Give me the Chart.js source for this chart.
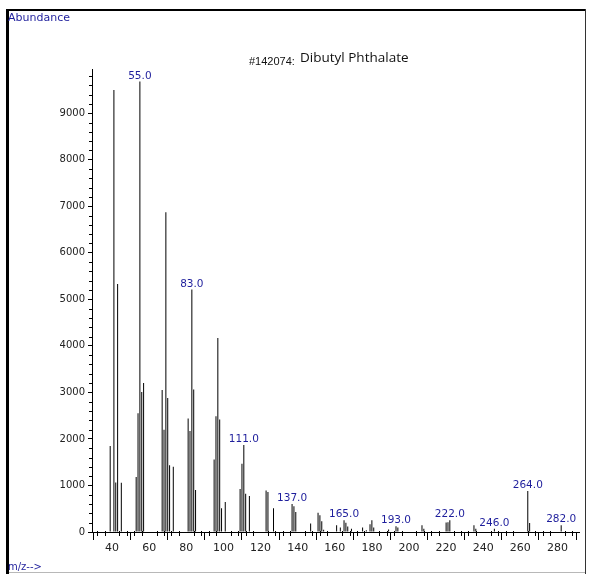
<!DOCTYPE html>
<html>
<head>
<meta charset="utf-8">
<script src="https://cdn.jsdelivr.net/npm/chart.js@4.4.1/dist/chart.umd.min.js"></script>
<style>
  html, body { margin: 0; padding: 0; background: #fff; }
  canvas { display: block; }
</style>
</head>
<body>
<canvas id="ms" width="590" height="574"></canvas>
<script>
// Mass spectrum: m/z of each ion and its abundance
const massToCharge = [
  39, 41, 42, 43, 45,
  53, 54, 55, 56, 57,
  67, 68, 69, 70, 71, 73,
  81, 82, 83, 84, 85,
  95, 96, 97, 98, 99, 101,
  109, 110, 111, 112, 114,
  123, 124, 127,
  137, 138, 139,
  147, 151, 152, 153, 154,
  161, 163, 165, 166, 167, 169,
  175, 177, 179, 180, 181,
  189, 193, 194,
  207, 208,
  220, 221, 222,
  235, 236, 246,
  264, 265, 282
];
const abundance = [
  1850, 9500, 1065, 5330, 1060,
  1180, 2550, 9680, 3010, 3200,
  3050, 2200, 6870, 2880, 1435, 1400,
  2440, 2170, 5210, 3060, 900,
  1560, 2490, 4170, 2420, 510, 645,
  925, 1465, 1870, 820, 775,
  890, 860, 510,
  600, 555, 430,
  185, 415, 360, 230, 50,
  145, 95, 250, 200, 120, 72,
  95, 37, 165, 250, 95,
  52, 122, 95,
  145, 72,
  205, 210, 252,
  144, 72, 72,
  880, 195, 144
];
// Peaks annotated with their m/z
const labelledPeaks = [55, 83, 111, 137, 165, 193, 222, 246, 264, 282];
// Axis tick labels
const mzTicks = [40, 60, 80, 100, 120, 140, 160, 180, 200, 220, 240, 260, 280];
const abundanceTicks = [0, 1000, 2000, 3000, 4000, 5000, 6000, 7000, 8000, 9000];

const compoundId = '#142074:';
const compoundName = 'Dibutyl Phthalate';
const yTitle = 'Abundance';
const xTitle = 'm/z-->';

const BLUE = '#1e1e9c';
const TICK_FONT = 'DejaVu Sans';

// Frame, titles, minor ticks and peak annotations
const spectrumDecor = {
  id: 'spectrumDecor',
  beforeDraw(chart) {
    const ctx = chart.ctx;
    ctx.save();
    ctx.fillStyle = '#fff';
    ctx.fillRect(0, 0, chart.width, chart.height);
    ctx.fillStyle = '#000';
    ctx.fillRect(6, 9, 3, 565);      // left edge
    ctx.fillRect(6, 9, 580, 2);      // top edge
    ctx.fillStyle = '#333';
    ctx.fillRect(585, 9, 1, 565);    // right edge
    ctx.fillStyle = '#b8b8b8';
    ctx.fillRect(9, 572, 576, 1);    // bottom edge
    ctx.restore();
  },
  afterDraw(chart) {
    const ctx = chart.ctx;
    const xs = chart.scales.x, ys = chart.scales.y;
    const area = chart.chartArea;
    ctx.save();
    ctx.strokeStyle = '#000';
    ctx.lineWidth = 1;
    ctx.beginPath();
    // minor ticks on m/z axis, every 4 units
    for (let v = 32; v <= xs.max; v += 4) {
      if (v % 20 === 0) continue;
      const px = Math.round(xs.getPixelForValue(v)) + 0.5;
      ctx.moveTo(px, area.bottom - 1);
      ctx.lineTo(px, area.bottom + 4);
    }
    // minor ticks on abundance axis, every 200
    for (let v = 200; v <= ys.max; v += 200) {
      if (v % 1000 === 0) continue;
      const py = Math.round(ys.getPixelForValue(v)) + 0.5;
      ctx.moveTo(area.left - 3, py);
      ctx.lineTo(area.left, py);
    }
    ctx.stroke();

    // peak annotations
    ctx.fillStyle = BLUE;
    ctx.font = '10.5px "DejaVu Sans"';
    ctx.textAlign = 'center';
    ctx.textBaseline = 'alphabetic';
    labelledPeaks.forEach(m => {
      const i = massToCharge.indexOf(m);
      const px = xs.getPixelForValue(m);
      const py = ys.getPixelForValue(abundance[i]) - 3;
      ctx.fillText(m.toFixed(1), px, py);
    });

    // axis captions
    ctx.textAlign = 'left';
    ctx.font = '11px "DejaVu Sans"';
    ctx.fillText(yTitle, 8, 21);
    ctx.font = '10px "DejaVu Sans"';
    ctx.fillText(xTitle, 8, 570);

    // compound title
    ctx.fillStyle = '#111';
    ctx.font = '11px "Liberation Sans"';
    ctx.fillText(compoundId, 249, 65);
    ctx.font = '13.5px "Open Sans"';
    ctx.fillText(compoundName, 300, 62);
    ctx.restore();
  }
};

new Chart(document.getElementById('ms'), {
  type: 'bar',
  data: {
    datasets: [{
      data: massToCharge.map((m, i) => ({ x: m, y: abundance[i] })),
      backgroundColor: '#000',
      borderWidth: 0,
      inflateAmount: 0,
      barThickness: 1
    }]
  },
  options: {
    responsive: false,
    animation: false,
    events: [],
    layout: { padding: { left: 0, right: 11, top: 69, bottom: 0 } },
    plugins: { legend: { display: false }, tooltip: { enabled: false } },
    scales: {
      x: {
        type: 'linear',
        min: 29.2,
        max: 291.6,
        offset: false,
        afterBuildTicks: s => { s.ticks = mzTicks.map(v => ({ value: v })); },
        afterFit: s => { s.height = 42; },
        grid: { display: true, drawOnChartArea: false, tickLength: 8, tickColor: '#000', tickWidth: 1 },
        border: { display: true, color: '#000', width: 1 },
        ticks: {
          autoSkip: false, maxRotation: 0, padding: 2,
          color: '#222', font: { family: TICK_FONT, size: 11 },
          callback: v => String(v)
        }
      },
      y: {
        min: 0,
        max: 9950,
        afterBuildTicks: s => { s.ticks = abundanceTicks.map(v => ({ value: v })); },
        afterFit: s => { s.width = 92; },
        grid: { display: true, drawOnChartArea: false, tickLength: 4, tickColor: '#000', tickWidth: 1 },
        border: { display: true, color: '#000', width: 1 },
        ticks: {
          padding: 3,
          color: '#222', font: { family: TICK_FONT, size: 10 },
          callback: v => String(v)
        }
      }
    }
  },
  plugins: [spectrumDecor]
});
</script>
</body>
</html>
